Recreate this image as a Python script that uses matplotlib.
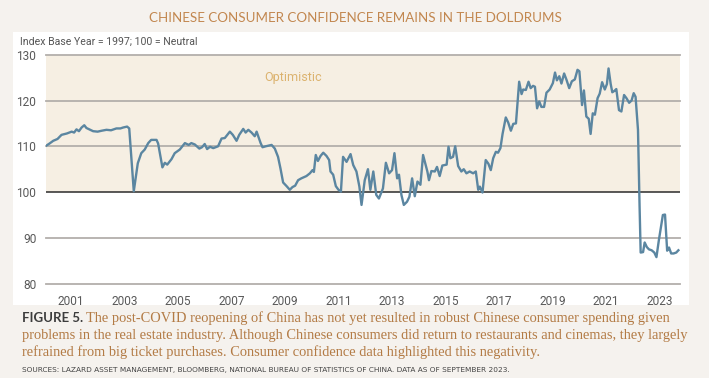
import matplotlib

matplotlib.use("Agg")
import matplotlib.pyplot as plt
from matplotlib.patches import Rectangle

# decimal year -> index level
years = [
    2000.07, 2000.20, 2000.34, 2000.50, 2000.65, 2000.85, 2001.03, 2001.12, 2001.21, 2001.30,
    2001.40, 2001.50, 2001.58, 2001.65, 2001.83, 2002.00, 2002.15, 2002.33, 2002.50, 2002.70,
    2002.85, 2002.95, 2003.10, 2003.18, 2003.35, 2003.50, 2003.63, 2003.76, 2003.89, 2004.00,
    2004.20, 2004.26, 2004.42, 2004.51, 2004.60, 2004.76, 2004.88, 2005.07, 2005.26, 2005.40,
    2005.50, 2005.63, 2005.80, 2005.90, 2006.00, 2006.09, 2006.20, 2006.32, 2006.50, 2006.63,
    2006.75, 2006.94, 2007.05, 2007.19, 2007.29, 2007.44, 2007.53, 2007.63, 2007.75, 2007.87,
    2007.94, 2008.09, 2008.16, 2008.28, 2008.50, 2008.62, 2008.74, 2008.83, 2008.93, 2009.06,
    2009.18, 2009.28, 2009.38, 2009.49, 2009.61, 2009.80, 2009.93, 2010.03, 2010.08, 2010.15,
    2010.23, 2010.33, 2010.43, 2010.55, 2010.65, 2010.70, 2010.80, 2010.90, 2011.00, 2011.09,
    2011.17, 2011.30, 2011.45, 2011.55, 2011.67, 2011.78, 2011.86, 2011.98, 2012.10, 2012.19,
    2012.30, 2012.41, 2012.51, 2012.66, 2012.77, 2012.89, 2013.00, 2013.09, 2013.19, 2013.26,
    2013.35, 2013.44, 2013.56, 2013.65, 2013.75, 2013.85, 2013.95, 2014.06, 2014.16, 2014.32,
    2014.38, 2014.47, 2014.60, 2014.68, 2014.78, 2014.88, 2015.04, 2015.11, 2015.18, 2015.28,
    2015.36, 2015.47, 2015.59, 2015.68, 2015.78, 2015.90, 2016.03, 2016.13, 2016.22, 2016.28,
    2016.38, 2016.50, 2016.60, 2016.69, 2016.78, 2016.88, 2016.96, 2017.05, 2017.13, 2017.25,
    2017.34, 2017.44, 2017.53, 2017.63, 2017.75, 2017.84, 2017.90, 2018.00, 2018.10, 2018.18,
    2018.27, 2018.34, 2018.42, 2018.50, 2018.58, 2018.68, 2018.77, 2018.89, 2019.01, 2019.09,
    2019.16, 2019.25, 2019.33, 2019.43, 2019.52, 2019.62, 2019.72, 2019.83, 2019.93, 2020.00,
    2020.10, 2020.17, 2020.26, 2020.35, 2020.42, 2020.50, 2020.58, 2020.68, 2020.76, 2020.85,
    2020.95, 2021.03, 2021.09, 2021.17, 2021.23, 2021.31, 2021.38, 2021.48, 2021.57, 2021.67,
    2021.76, 2021.86, 2021.95, 2022.03, 2022.10, 2022.19, 2022.25, 2022.29, 2022.38, 2022.44,
    2022.52, 2022.60, 2022.70, 2022.80, 2022.88, 2022.97, 2023.05, 2023.12, 2023.20, 2023.28,
    2023.35, 2023.43, 2023.52, 2023.62, 2023.70,
]
index = [
    110.1, 110.6, 111.2, 111.6, 112.5, 112.8, 113.2, 113.0, 113.7, 113.3,
    114.1, 114.6, 114.0, 113.8, 113.3, 113.2, 113.4, 113.6, 113.5, 113.9,
    113.9, 114.1, 114.3, 113.9, 100.2, 106.3, 108.5, 109.3, 110.7, 111.4,
    111.4, 110.6, 105.4, 106.4, 106.0, 107.2, 108.5, 109.3, 110.7, 110.3,
    110.7, 110.4, 109.5, 109.8, 110.5, 109.4, 109.9, 109.6, 110.0, 111.7,
    111.8, 113.2, 112.5, 111.2, 112.5, 113.8, 113.0, 113.6, 113.0, 112.2,
    113.2, 110.7, 109.8, 110.0, 110.3, 109.5, 107.7, 105.2, 102.1, 101.3,
    100.5, 101.1, 101.4, 102.6, 103.0, 103.5, 104.1, 104.8, 104.4, 108.1,
    106.8, 107.9, 108.6, 107.9, 107.0, 104.5, 103.8, 101.3, 100.5, 100.1,
    107.7, 106.6, 108.3, 105.9, 104.5, 101.2, 97.2, 102.6, 105.0, 100.5,
    104.5, 99.4, 98.6, 100.8, 106.4, 104.1, 104.8, 108.5, 103.0, 103.8,
    99.4, 97.2, 97.9, 99.0, 103.0, 99.1, 102.3, 101.6, 108.1, 104.5,
    102.6, 104.6, 104.5, 105.5, 103.5, 105.8, 106.0, 109.9, 107.4, 107.7,
    110.0, 105.7, 104.5, 105.0, 104.1, 104.5, 104.1, 104.5, 100.5, 101.2,
    99.9, 107.0, 106.2, 104.8, 107.4, 108.8, 108.6, 109.6, 112.7, 116.3,
    115.2, 113.4, 114.9, 115.0, 124.1, 121.4, 122.4, 122.3, 124.1, 122.7,
    123.2, 123.0, 118.3, 119.8, 118.6, 118.6, 121.7, 122.4, 123.8, 126.1,
    124.4, 125.3, 123.7, 125.9, 124.5, 122.7, 124.2, 124.6, 126.7, 126.4,
    119.0, 122.2, 116.5, 116.0, 112.7, 117.2, 116.9, 120.5, 121.5, 124.0,
    122.4, 123.6, 127.0, 123.6, 121.8, 122.1, 122.5, 117.9, 117.6, 121.2,
    120.5, 119.5, 120.0, 121.6, 120.8, 113.6, 96.8, 86.8, 86.9, 89.0,
    88.0, 87.5, 87.3, 86.8, 85.8, 89.5, 92.5, 95.0, 95.1, 87.2,
    87.9, 86.6, 86.6, 86.8, 87.3,
]
tick_years = [2001, 2003, 2005, 2007, 2009, 2011, 2013, 2015, 2017, 2019, 2021, 2023]
grid_levels = [80, 90, 110, 120, 130]

caption_lines = [
    "The post-COVID reopening of China has not yet resulted in robust Chinese consumer spending given",
    "problems in the real estate industry. Although Chinese consumers did return to restaurants and cinemas, they largely",
    "refrained from big ticket purchases. Consumer confidence data highlighted this negativity.",
]

W, H = 709, 378
fig = plt.figure(figsize=(W / 100, H / 100), dpi=100, facecolor="#f5f2ee")

# white panel behind the chart
fig.patches.append(Rectangle((13 / W, 1 - 305 / H), 676 / W, 273 / H,
                             transform=fig.transFigure, facecolor="white",
                             edgecolor="none", zorder=-10))

ax = fig.add_axes([46 / W, 1 - 283.7 / H, 634 / W, 229 / H])
ax.set_facecolor("none")
ax.set_zorder(1)
ax.axhspan(100, 130, color="#f6efe3", lw=0, zorder=0)
for lvl in grid_levels:
    ax.axhline(lvl, color="#b3afab", lw=1.3, zorder=1, clip_on=False)
ax.axhline(100, color="#2b2b2b", lw=1.1, zorder=2)
ax.plot(years, index, color="#5b86a1", lw=1.7, zorder=3)

ax.text(2009.3, 125.1, "Optimistic", color="#dcb36f", fontsize=9, family="Roboto",
        ha="center", va="center")

ax.set_xlim(2000.07, 2023.76)
ax.set_ylim(80, 130)
ax.set_yticks([80, 90, 100, 110, 120, 130])
ax.set_xticks(tick_years)
ax.tick_params(length=0, labelsize=8.6, labelcolor="#595959")
ax.tick_params(axis="y", pad=7)
ax.tick_params(axis="x", pad=8)
for lab in ax.get_xticklabels() + ax.get_yticklabels():
    lab.set_family("Roboto")
for s in ax.spines.values():
    s.set_visible(False)

fig.text(355 / W, 1 - 18 / H, "CHINESE CONSUMER CONFIDENCE REMAINS IN THE DOLDRUMS",
         color="#c2874f", fontsize=9.6, family="Lato", ha="center", va="center")
fig.text(20 / W, 1 - 42 / H, "Index Base Year = 1997; 100 = Neutral",
         color="#555555", fontsize=7.6, family="Roboto", ha="left", va="center")

fig.text(22 / W, 1 - 318 / H, "FIGURE 5.", color="#3c3c3c", fontsize=9.5,
         weight="bold", family="Lato", ha="left", va="center")
for i, line in enumerate(caption_lines):
    x0 = 86 if i == 0 else 22
    fig.text(x0 / W, 1 - (318 + 17 * i) / H, line, color="#b37b45", fontsize=10.4,
             family="Liberation Serif", ha="left", va="center")
fig.text(22 / W, 1 - 370 / H,
         "SOURCES: LAZARD ASSET MANAGEMENT, BLOOMBERG, NATIONAL BUREAU OF STATISTICS OF CHINA. "
         "DATA AS OF SEPTEMBER 2023.",
         color="#444444", fontsize=5.3, ha="left", va="center")

fig.savefig("out.png", dpi=100, facecolor=fig.get_facecolor())
